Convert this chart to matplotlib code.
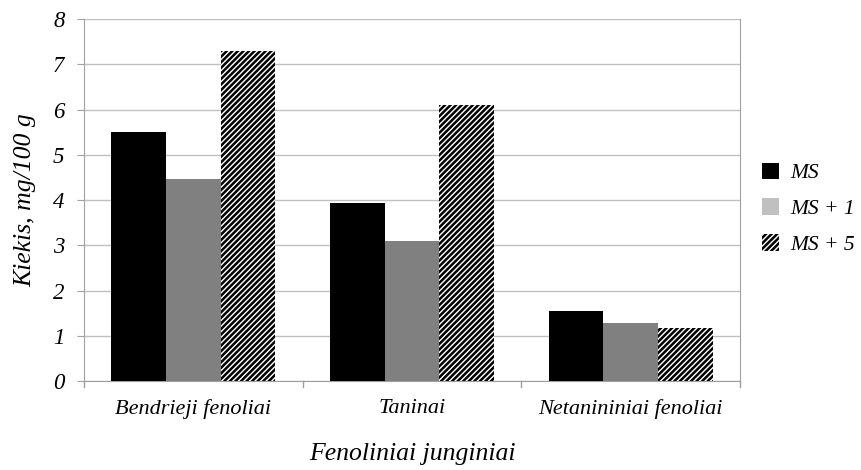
import matplotlib
matplotlib.use("Agg")
import matplotlib.pyplot as plt
import matplotlib.patches as mpatches
import numpy as np

plt.rcParams['font.family'] = ['Liberation Serif', 'DejaVu Serif']
plt.rcParams['hatch.linewidth'] = 1.8
plt.rcParams['hatch.color'] = 'black'

categories = ["Bendrieji fenoliai", "Taninai", "Netanininiai fenoliai"]
ms = [5.50, 3.93, 1.55]
ms_1 = [4.46, 3.09, 1.28]
ms_5 = [7.29, 6.10, 1.17]
series_names = ["MS", "MS + 1", "MS + 5"]

fig = plt.figure(figsize=(8.61, 4.70), dpi=100)
ax = fig.add_axes([0.0976, 0.189, 0.7619, 0.7706])

x = np.arange(len(categories))
w = 0.25
ax.bar(x - w, ms, w, color='black', linewidth=0, zorder=3)
ax.bar(x, ms_1, w, color='#808080', linewidth=0, zorder=3)
ax.bar(x + w, ms_5, w, color='white', edgecolor='black', hatch='//////',
       linewidth=0, zorder=3)

ax.set_xlim(-0.5, 2.5)
ax.set_ylim(0, 8)
ax.set_yticks(range(0, 9))
ax.set_yticklabels([str(i) for i in range(0, 9)], fontsize=16.5, style='italic')
ax.set_xticks(x)
ax.set_xticklabels(categories, fontsize=16, style='italic')
ax.tick_params(axis='x', length=0, pad=13)
ax.tick_params(axis='y', length=5, color='#a0a0a0', pad=9)

# boundary ticks between categories
for b in [-0.5, 0.5, 1.5, 2.5]:
    ax.plot([b, b], [0, -0.12], color='#a0a0a0', lw=1, clip_on=False)

ax.grid(axis='y', color='#c0c0c0', lw=1, zorder=0)
for s in ['left', 'bottom', 'right']:
    ax.spines[s].set_color('#a0a0a0')
ax.spines['top'].set_visible(False)

ax.set_ylabel("Kiekis, mg/100 g", fontsize=18.5, style='italic', labelpad=12)
ax.set_xlabel("Fenoliniai junginiai", fontsize=18.5, style='italic', labelpad=17)

handles = [
    mpatches.Patch(facecolor='black', edgecolor='none'),
    mpatches.Patch(facecolor='#c0c0c0', edgecolor='none'),
    mpatches.Patch(facecolor='white', edgecolor='black', hatch='//////', linewidth=0),
]
leg = fig.legend(handles, series_names, loc='center left', bbox_to_anchor=(0.885, 0.556),
                 frameon=False, borderpad=0, borderaxespad=0,
                 prop={'family': 'Liberation Serif', 'style': 'italic', 'size': 15.5},
                 handlelength=0.8, handleheight=0.8, handletextpad=0.5, labelspacing=0.7)

fig.savefig("out.png", dpi=100)
